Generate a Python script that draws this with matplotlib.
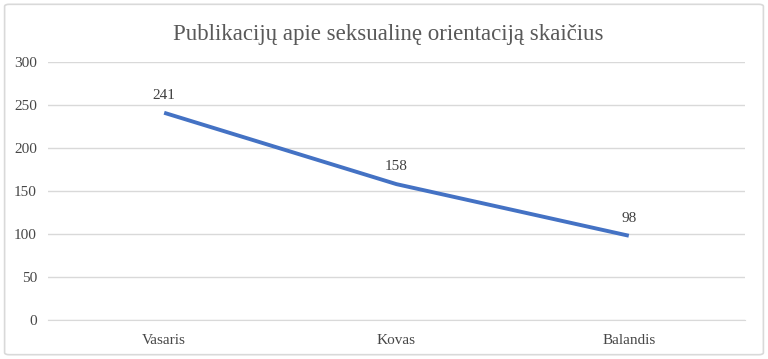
import matplotlib.pyplot as plt
from matplotlib.patches import FancyBboxPatch

# Dati
months = ["Vasaris", "Kovas", "Balandis"]
counts = [241, 158, 98]
y_ticks = [0, 50, 100, 150, 200, 250, 300]

plt.rcParams['font.family'] = ['Liberation Serif', 'DejaVu Serif']

fig = plt.figure(figsize=(7.68, 3.59), dpi=100)
ax = fig.add_axes([0.0625, 0.1086, 0.9075, 0.7186])

# Bordo arrotondato attorno al grafico
border = FancyBboxPatch((0.006, 0.012), 0.988, 0.976,
                        boxstyle="round,pad=0,rounding_size=0.006",
                        transform=fig.transFigure, facecolor='white',
                        edgecolor='#d9d9d9', linewidth=1.2, zorder=-10)
fig.patches.append(border)

x = range(len(months))
ax.plot(x, counts, color='#4472C4', linewidth=2.8, solid_capstyle='butt')

for xi, v in zip(x, counts):
    ax.annotate(str(v), (xi, v), xytext=(0, 8), textcoords='offset points',
                ha='center', va='bottom', fontsize=11, color='#404040')

ax.set_xlim(-0.5, len(months) - 0.5)
ax.set_ylim(0, 300)
ax.set_yticks(y_ticks)
ax.set_xticks(list(x))
ax.set_xticklabels(months)
ax.tick_params(axis='both', length=0, labelsize=11, colors='#474747')
ax.tick_params(axis='y', pad=8)
ax.tick_params(axis='x', pad=10)

ax.grid(axis='y', color='#d9d9d9', linewidth=1)
ax.set_axisbelow(True)
for s in ['top', 'right', 'left']:
    ax.spines[s].set_visible(False)
ax.spines['bottom'].set_color('#d9d9d9')
ax.set_facecolor('none')

fig.text(0.506, 0.905, "Publikacijų apie seksualinę orientaciją skaičius",
         ha='center', va='center', fontsize=16.5, color='#595959')

fig.savefig('out.png', dpi=100)
